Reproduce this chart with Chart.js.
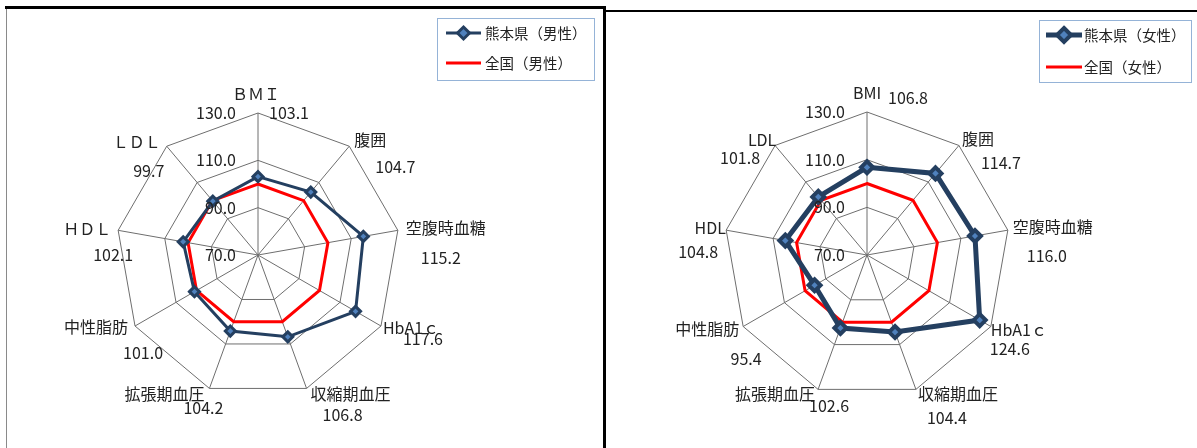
<!DOCTYPE html>
<html lang="ja">
<head>
<meta charset="utf-8">
<title>健診結果 熊本県と全国の比較</title>
<script src="https://cdn.jsdelivr.net/npm/chart.js@4.4.1/dist/chart.umd.min.js"></script>
<style>
    body { margin: 0; background: #fff; }
    #wrap { position: relative; width: 1197px; height: 448px; overflow: hidden; }
    canvas { position: absolute; top: 0; }
    #maleChart { left: 0; }
    #femaleChart { left: 607px; }
    .rule { position: absolute; background: #000; }
</style>
</head>
<body>
<div id="wrap">
    <canvas id="maleChart" width="603" height="448"></canvas>
    <canvas id="femaleChart" width="590" height="448"></canvas>
    <div class="rule" style="left:5px;top:6px;width:601px;height:3px"></div>
    <div class="rule" style="left:6px;top:9px;width:1px;height:439px;background:#8a8a8a"></div>
    <div class="rule" style="left:603px;top:6px;width:3px;height:442px"></div>
    <div class="rule" style="left:606px;top:10px;width:591px;height:2px"></div>
</div>
<script>
// Categories (the male chart uses full-width letters)
const labelsMale = ['ＢＭＩ', '腹囲', '空腹時血糖', 'HbA1ｃ', '収縮期血圧', '拡張期血圧', '中性脂肪', 'ＨＤＬ', 'ＬＤＬ'];
const labelsFemale = ['BMI', '腹囲', '空腹時血糖', 'HbA1ｃ', '収縮期血圧', '拡張期血圧', '中性脂肪', 'HDL', 'LDL'];

// Series values (national = 100)
const kumamotoMale = [103.1, 104.7, 115.2, 117.6, 106.8, 104.2, 101.0, 102.1, 99.7];
const nationalMale = [100, 100, 100, 100, 100, 100, 100, 100, 100];
const kumamotoFemale = [106.8, 114.7, 116.0, 124.6, 104.4, 102.6, 95.4, 104.8, 101.8];
const nationalFemale = [100, 100, 100, 100, 100, 100, 100, 100, 100];

// Radial tick labels
const tickValues = [70, 90, 110, 130];

const NAVY = '#243f60';
const MARKER_FILL = '#4f81bd';
const RED = '#ff0000';
const FONT = '"Noto Sans CJK JP", "Noto Sans", sans-serif';

// diamond marker, half-diagonal r
function diamond(ctx, x, y, r, lw) {
    ctx.beginPath();
    ctx.moveTo(x, y - r);
    ctx.lineTo(x + r, y);
    ctx.lineTo(x, y + r);
    ctx.lineTo(x - r, y);
    ctx.closePath();
    ctx.fillStyle = MARKER_FILL;
    ctx.fill();
    ctx.lineWidth = lw;
    ctx.strokeStyle = NAVY;
    ctx.stroke();
}

// Draws category names, value labels, tick labels and the legend box
const radarText = {
    id: 'radarText',
    afterDraw(chart, args, opts) {
        const ctx = chart.ctx;
        const scale = chart.scales.r;
        const labels = chart.data.labels;
        const values = chart.data.datasets[0].data;
        const outer = scale.getDistanceFromCenterForValue(scale.max);
        ctx.save();
        ctx.fillStyle = '#222';
        ctx.font = '16px ' + FONT;
        ctx.textBaseline = 'middle';
        ctx.textAlign = 'center';

        labels.forEach((name, i) => {
            const p = scale.getPointPosition(i, outer);
            const c = opts.catOffsets[i];
            const v = opts.valueOffsets[i];
            ctx.fillText(name, p.x + c[0], p.y + c[1]);
            ctx.fillText(values[i].toFixed(1), p.x + v[0], p.y + v[1]);
        });

        // tick labels, left of the vertical axis
        ctx.textAlign = 'right';
        tickValues.forEach(t => {
            const d = scale.getDistanceFromCenterForValue(t);
            ctx.fillText(t.toFixed(1), scale.xCenter - 22, scale.yCenter - d);
        });

        // legend
        const L = opts.legend;
        ctx.fillStyle = '#fff';
        ctx.fillRect(L.x, L.y, L.w, L.h);
        ctx.strokeStyle = '#95b3d7';
        ctx.lineWidth = 1;
        ctx.strokeRect(L.x + 0.5, L.y + 0.5, L.w, L.h);
        ctx.textAlign = 'left';
        ctx.font = '14.5px ' + FONT;
        chart.data.datasets.forEach((ds, i) => {
            const y = L.rows[i];
            ctx.beginPath();
            ctx.moveTo(L.lineX[0], y);
            ctx.lineTo(L.lineX[1], y);
            ctx.strokeStyle = ds.borderColor;
            ctx.lineWidth = ds.borderWidth;
            ctx.stroke();
            if (ds.pointRadius > 0) {
                diamond(ctx, (L.lineX[0] + L.lineX[1]) / 2, y, ds.pointRadius + 1, ds.pointBorderWidth);
            }
            ctx.fillStyle = '#222';
            ctx.fillText(ds.label, L.textX, y);
        });
        ctx.restore();
    }
};

function makeRadar(id, labels, local, national, names, look) {
    const ctx = document.getElementById(id).getContext('2d');
    return new Chart(ctx, {
        type: 'radar',
        data: {
            labels: labels,
            datasets: [{
                label: names[0],
                data: local,
                borderColor: NAVY,
                borderWidth: look.lineWidth,
                pointStyle: 'rectRot',
                pointRadius: look.markerRadius,
                pointBorderWidth: look.markerBorder,
                pointBackgroundColor: MARKER_FILL,
                pointBorderColor: NAVY,
                fill: false,
                tension: 0
            }, {
                label: names[1],
                data: national,
                borderColor: RED,
                borderWidth: 3,
                pointRadius: 0,
                fill: false,
                tension: 0
            }]
        },
        options: {
            responsive: false,
            animation: false,
            devicePixelRatio: 1,
            layout: { padding: look.padding },
            scales: {
                r: {
                    min: tickValues[0],
                    max: tickValues[tickValues.length - 1],
                    ticks: { stepSize: tickValues[1] - tickValues[0], display: false },
                    pointLabels: { display: false },
                    grid: { color: '#6e6e6e', lineWidth: 1 },
                    angleLines: { color: '#6e6e6e', lineWidth: 1 }
                }
            },
            plugins: {
                legend: { display: false },
                tooltip: { enabled: false },
                radarText: {
                    catOffsets: look.catOffsets,
                    valueOffsets: look.valueOffsets,
                    legend: look.legend
                }
            }
        },
        plugins: [radarText]
    });
}

makeRadar('maleChart', labelsMale, kumamotoMale, nationalMale, ['熊本県（男性）', '全国（男性）'], {
    lineWidth: 3,
    markerRadius: 5,
    markerBorder: 3,
    padding: { left: 116, right: 203, top: 113, bottom: 51 },
    catOffsets: [[-2, -19], [21, -6], [48, -2], [30, 2], [44, 5], [-45, 5], [-39, 1], [-31, -1], [-30, -4]],
    valueOffsets: [[31, 0], [46, 21], [43, 28], [42, 13], [36, 26], [-6, 19], [8, 27], [-5, 25], [-18, 25]],
    legend: { x: 437, y: 18, w: 157, h: 62, rows: [33, 63], lineX: [446, 481], textX: 485 }
});

makeRadar('femaleChart', labelsFemale, kumamotoFemale, nationalFemale, ['熊本県（女性）', '全国（女性）'], {
    lineWidth: 5,
    markerRadius: 6,
    markerBorder: 4,
    padding: { left: 117, right: 187, top: 112, bottom: 50 },
    catOffsets: [[0, -19], [19, -7], [45, -3], [28, 3], [42, 5], [-43, 5], [-36, 2], [-16, -2], [-13, -6]],
    valueOffsets: [[41, -14], [42, 17], [39, 26], [19, 22], [31, 29], [11, 17], [3, 32], [-28, 22], [-35, 12]],
    legend: { x: 432, y: 20, w: 152, h: 62, rows: [35, 67], lineX: [439, 475], textX: 477 }
});
</script>
</body>
</html>
